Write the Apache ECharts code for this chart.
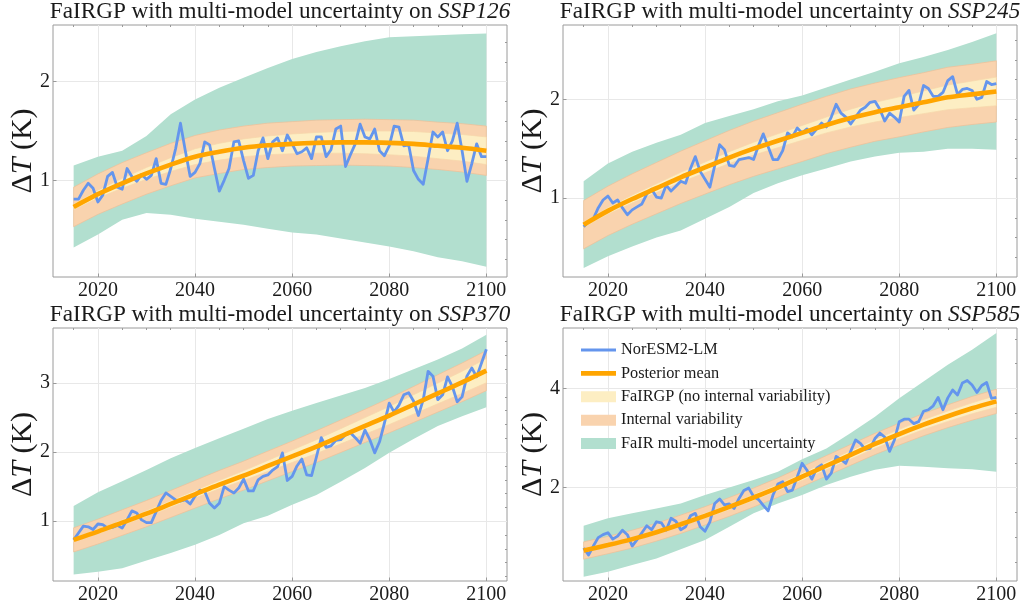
<!DOCTYPE html>
<html>
<head>
<meta charset="utf-8">
<script src="https://cdn.jsdelivr.net/npm/echarts@6/dist/echarts.min.js"></script>
<style>
  html, body { margin: 0; padding: 0; background: #ffffff; }
  #chart { width: 1021px; height: 608px; }
</style>
</head>
<body>
<div id="chart"></div>
<script>
// ---------- data ----------
// annual years of the NorESM2-LM run
const years = [];
for (let y = 2015; y <= 2100; y++) years.push(y);
// five-yearly years at which the FaIRGP / FaIR envelopes are given
const bandYears = [2015,2020,2025,2030,2035,2040,2045,2050,2055,2060,2065,2070,2075,2080,2085,2090,2095,2100];

const scenarios = ['SSP126', 'SSP245', 'SSP370', 'SSP585'];

// NorESM2-LM global mean temperature anomaly (K)
const blue126 = [0.81,0.81,0.90,0.97,0.92,0.78,0.85,1.04,1.08,0.93,0.91,1.12,1.04,0.99,1.06,1.01,1.05,1.22,0.97,0.96,1.12,1.32,1.58,1.30,1.04,1.08,1.17,1.39,1.36,1.12,0.89,1.00,1.12,1.39,1.40,1.20,1.02,1.05,1.30,1.43,1.22,1.39,1.43,1.30,1.46,1.37,1.27,1.29,1.33,1.22,1.44,1.44,1.24,1.31,1.52,1.55,1.14,1.26,1.37,1.57,1.44,1.42,1.52,1.30,1.25,1.35,1.55,1.54,1.35,1.36,1.10,1.01,0.96,1.22,1.49,1.44,1.49,1.30,1.40,1.58,1.30,0.99,1.17,1.37,1.24,1.24];
const blue245 = [0.71,0.76,0.79,0.90,0.98,1.02,0.95,0.98,0.90,0.83,0.88,0.91,0.94,1.04,1.09,1.01,1.00,1.13,1.07,1.12,1.17,1.15,1.30,1.42,1.27,1.19,1.11,1.33,1.54,1.49,1.33,1.32,1.39,1.40,1.41,1.39,1.53,1.65,1.52,1.39,1.39,1.48,1.66,1.62,1.71,1.66,1.70,1.64,1.70,1.76,1.72,1.82,1.95,1.86,1.82,1.75,1.82,1.89,1.92,1.97,1.98,1.90,1.78,1.86,1.82,1.77,2.03,2.09,1.89,1.95,2.14,2.11,2.03,2.03,2.07,2.19,2.23,2.05,2.10,2.11,2.09,2.00,2.02,2.18,2.15,2.16];
const blue370 = [0.73,0.83,0.93,0.92,0.88,0.96,0.95,0.90,0.91,0.94,0.90,1.02,1.15,1.12,1.02,0.98,0.98,1.14,1.30,1.41,1.36,1.31,1.29,1.31,1.25,1.36,1.45,1.43,1.26,1.19,1.26,1.50,1.45,1.41,1.48,1.61,1.44,1.44,1.60,1.65,1.67,1.74,1.79,1.99,1.59,1.65,1.80,1.90,1.67,1.66,1.93,2.21,2.07,2.09,2.17,2.18,2.25,2.28,2.21,2.13,2.32,2.18,1.99,2.15,2.42,2.71,2.58,2.68,2.83,2.86,2.74,2.53,2.76,3.17,3.10,2.76,2.83,3.09,2.95,2.73,2.80,3.10,3.22,3.09,3.29,3.49];
const blue585 = [0.78,0.64,0.82,0.99,1.05,1.09,0.96,1.02,1.14,1.05,0.82,0.95,1.09,1.23,1.15,1.31,1.29,1.14,1.38,1.32,1.15,1.21,1.43,1.48,1.21,1.12,1.31,1.68,1.77,1.65,1.67,1.58,1.78,1.94,1.99,1.82,1.76,1.64,1.53,1.85,2.07,2.12,1.92,1.95,2.22,2.49,2.35,2.17,2.39,2.46,2.17,2.29,2.63,2.57,2.49,2.73,2.96,2.89,2.77,2.79,2.99,3.10,3.02,2.73,2.96,3.33,3.38,3.38,3.29,3.33,3.54,3.57,3.65,3.82,3.57,3.81,3.97,3.87,4.11,4.16,4.07,3.92,4.06,4.12,3.80,3.82];

// FaIRGP posterior mean (K), five-yearly
const mean126 = [0.73,0.86,0.97,1.07,1.16,1.24,1.29,1.33,1.355,1.37,1.38,1.385,1.385,1.38,1.37,1.35,1.33,1.30];
const mean245 = [0.73,0.87,0.99,1.10,1.21,1.31,1.41,1.50,1.58,1.66,1.74,1.81,1.87,1.92,1.97,2.02,2.05,2.08];
const mean370 = [0.73,0.85,0.98,1.11,1.25,1.39,1.53,1.66,1.80,1.94,2.08,2.23,2.38,2.53,2.69,2.85,3.01,3.18];
const mean585 = [0.73,0.84,0.96,1.10,1.26,1.43,1.61,1.80,2.00,2.22,2.44,2.66,2.88,3.08,3.27,3.44,3.60,3.74];

// FaIRGP half-width without internal variability (K)
const yellowHalf126 = [0.03,0.04,0.05,0.06,0.07,0.08,0.085,0.09,0.095,0.10,0.105,0.11,0.115,0.12,0.125,0.13,0.135,0.14];
const yellowHalf245 = [0.03,0.035,0.04,0.045,0.05,0.055,0.06,0.065,0.07,0.075,0.08,0.09,0.10,0.105,0.115,0.125,0.135,0.145];
const yellowHalf370 = [0.03,0.035,0.04,0.045,0.05,0.055,0.06,0.07,0.08,0.09,0.10,0.11,0.12,0.13,0.14,0.15,0.16,0.175];
const yellowHalf585 = [0.03,0.035,0.04,0.045,0.05,0.055,0.06,0.065,0.07,0.075,0.08,0.085,0.09,0.095,0.10,0.105,0.11,0.12];

// half-width including internal variability (K)
const orangeHalf126 = [0.20,0.205,0.21,0.21,0.215,0.215,0.22,0.22,0.225,0.225,0.23,0.23,0.235,0.235,0.24,0.24,0.245,0.25];
const orangeHalf245 = [0.245,0.25,0.255,0.26,0.265,0.27,0.275,0.28,0.285,0.29,0.29,0.295,0.295,0.30,0.30,0.305,0.305,0.31];
const orangeHalf370 = [0.175,0.18,0.185,0.19,0.195,0.20,0.205,0.21,0.215,0.22,0.23,0.235,0.24,0.25,0.26,0.27,0.28,0.29];
const orangeHalf585 = [0.175,0.175,0.18,0.18,0.185,0.185,0.19,0.19,0.195,0.20,0.205,0.21,0.215,0.22,0.225,0.23,0.24,0.245];

// FaIR multi-model envelope bounds (K)
const greenLo126 = [0.32,0.45,0.60,0.67,0.65,0.61,0.58,0.55,0.51,0.47,0.45,0.41,0.37,0.33,0.28,0.22,0.18,0.125];
const greenHi126 = [1.15,1.24,1.30,1.45,1.67,1.82,1.94,2.04,2.14,2.23,2.30,2.36,2.41,2.45,2.46,2.47,2.48,2.49];
const greenLo245 = [0.29,0.41,0.51,0.60,0.67,0.79,0.91,1.05,1.15,1.23,1.30,1.37,1.42,1.46,1.47,1.50,1.50,1.49];
const greenHi245 = [1.17,1.35,1.47,1.56,1.64,1.76,1.83,1.90,1.98,2.04,2.12,2.20,2.28,2.365,2.43,2.50,2.58,2.67];
const greenLo370 = [0.23,0.27,0.32,0.43,0.54,0.66,0.80,0.97,1.08,1.24,1.38,1.57,1.77,1.99,2.19,2.38,2.52,2.65];
const greenHi370 = [1.22,1.42,1.58,1.74,1.91,2.06,2.20,2.34,2.48,2.60,2.71,2.82,2.93,3.06,3.20,3.34,3.50,3.70];
const greenLo585 = [0.20,0.30,0.44,0.57,0.755,0.94,1.21,1.48,1.68,1.85,2.05,2.22,2.36,2.44,2.42,2.39,2.37,2.32];
const greenHi585 = [1.23,1.38,1.48,1.58,1.68,1.85,2.00,2.155,2.32,2.57,2.79,3.10,3.43,3.80,4.14,4.48,4.78,5.12];

// axis ticks
const xTicks = [2020, 2040, 2060, 2080, 2100];
const xMinor = [2015, 2025, 2030, 2035, 2045, 2050, 2055, 2065, 2070, 2075, 2085, 2090, 2095];
const yTicks = [[1, 2], [1, 2], [1, 2, 3], [2, 4]];
const yMinor = [
  [0.2,0.4,0.6,0.8,1.2,1.4,1.6,1.8,2.2,2.4],
  [0.4,0.6,0.8,1.2,1.4,1.6,1.8,2.2,2.4,2.6],
  [0.2,0.4,0.6,0.8,1.2,1.4,1.6,1.8,2.2,2.4,2.6,2.8,3.2,3.4,3.6],
  [0.5,1,1.5,2.5,3,3.5,4.5,5]
];
const yRange = [[0.02, 2.575], [0.2, 2.753], [0.135, 3.797], [0.115, 5.22]];
const xRange = [2010.75, 2104.25];

const blues = [blue126, blue245, blue370, blue585];
const means = [mean126, mean245, mean370, mean585];
const yellowHalves = [yellowHalf126, yellowHalf245, yellowHalf370, yellowHalf585];
const orangeHalves = [orangeHalf126, orangeHalf245, orangeHalf370, orangeHalf585];
const greenLos = [greenLo126, greenLo245, greenLo370, greenLo585];
const greenHis = [greenHi126, greenHi245, greenHi370, greenHi585];

// ---------- styling ----------
const FONT = 'Liberation Serif';
const C_GREEN = '#b2dfcf';
const C_ORANGE_BAND = '#f9d3ae';
const C_YELLOW = '#fdeec3';
const C_BLUE = '#6495ed';
const C_MEAN = '#ffa500';
const C_SPINE = '#9a9a9a';
const C_GRID = '#e8e8e8';
const C_TEXT = '#1a1a1a';

const grids = [
  { left: 53, top: 25, width: 454, height: 252 },
  { left: 563, top: 25, width: 454, height: 252 },
  { left: 53, top: 328, width: 454, height: 253 },
  { left: 563, top: 328, width: 454, height: 253 }
];

const pair = (xs, ys) => xs.map((x, i) => [x, ys[i]]);

const xAxes = [];
const yAxes = [];
const series = [];
const titles = [];

grids.forEach((g, p) => {
  // main axes: labels, major ticks, grid lines
  xAxes.push({
    type: 'value', gridIndex: p, min: xRange[0], max: xRange[1],
    axisLine: { show: false },
    axisTick: { show: true, inside: true, length: 3.5, customValues: xTicks, lineStyle: { color: C_SPINE } },
    axisLabel: { customValues: xTicks, formatter: v => String(v), fontFamily: FONT, fontSize: 20, color: C_TEXT, margin: 4 },
    splitLine: { show: true, lineStyle: { color: C_GRID, width: 1 } }
  });
  yAxes.push({
    type: 'value', gridIndex: p, min: yRange[p][0], max: yRange[p][1],
    axisLine: { show: false },
    axisTick: { show: true, inside: true, length: 3.5, customValues: yTicks[p], lineStyle: { color: C_SPINE } },
    axisLabel: { customValues: yTicks[p], formatter: v => String(v), fontFamily: FONT, fontSize: 20, color: C_TEXT, margin: 3 },
    splitLine: { show: true, lineStyle: { color: C_GRID, width: 1 } },
    name: '{d|Δ}{t|T}{d| (K)}',
    nameLocation: 'middle', nameGap: 15, nameRotate: 90, nameMoveOverlap: false,
    nameTextStyle: {
      rich: {
        d: { fontFamily: FONT, fontSize: 30, color: C_TEXT },
        t: { fontFamily: FONT, fontSize: 30, fontStyle: 'italic', color: C_TEXT }
      }
    }
  });

  titles.push({
    text: '{n|FaIRGP with multi-model uncertainty on }{i|' + scenarios[p] + '}',
    left: g.left + g.width / 2, top: g.top - 25, textAlign: 'center', padding: 0,
    textStyle: {
      rich: {
        n: { fontFamily: FONT, fontSize: 23.2, fontWeight: 'normal', color: C_TEXT },
        i: { fontFamily: FONT, fontSize: 23.2, fontWeight: 'normal', fontStyle: 'italic', color: C_TEXT }
      }
    }
  });
});

// minor tick axes (ticks only)
grids.forEach((g, p) => {
  xAxes.push({
    type: 'value', gridIndex: p, min: xRange[0], max: xRange[1],
    axisLine: { show: false }, axisLabel: { show: false }, splitLine: { show: false },
    axisTick: { show: true, inside: true, length: 2, customValues: xMinor, lineStyle: { color: C_SPINE } }
  });
  yAxes.push({
    type: 'value', gridIndex: p, min: yRange[p][0], max: yRange[p][1],
    axisLine: { show: false }, axisLabel: { show: false }, splitLine: { show: false },
    axisTick: { show: true, inside: true, length: 2, customValues: yMinor[p], lineStyle: { color: C_SPINE } }
  });
});

// filled envelope between lo and hi, drawn as one polygon through the grid's scales
function band(p, name, lo, hi, color, edge, z) {
  series.push({
    type: 'custom', name: name, xAxisIndex: p, yAxisIndex: p, z: z, silent: true,
    itemStyle: { color: color },
    data: [[bandYears[0], lo[0]]],
    renderItem: function (params, api) {
      const upper = bandYears.map((x, i) => api.coord([x, hi[i]]));
      const lower = bandYears.map((x, i) => api.coord([x, lo[i]])).reverse();
      return {
        type: 'polygon',
        shape: { points: upper.concat(lower) },
        style: { fill: color, stroke: edge || color, lineWidth: edge ? 0.7 : 0 }
      };
    }
  });
}

grids.forEach((g, p) => {
  const m = means[p];
  const yh = yellowHalves[p];
  const oh = orangeHalves[p];
  band(p, 'FaIR multi-model uncertainty', greenLos[p], greenHis[p], C_GREEN, null, 1);
  band(p, 'Internal variability', m.map((v, i) => v - oh[i]), m.map((v, i) => v + oh[i]), C_ORANGE_BAND, '#efbe96', 2);
  band(p, 'FaIRGP (no internal variability)', m.map((v, i) => v - yh[i]), m.map((v, i) => v + yh[i]), C_YELLOW, '#f7d7aa', 3);

  series.push({
    name: 'NorESM2-LM', type: 'line', xAxisIndex: p, yAxisIndex: p,
    data: pair(years, blues[p]), symbol: 'none', z: 5,
    lineStyle: { color: C_BLUE, width: 2.8, join: 'round' },
    itemStyle: { color: C_BLUE }
  });
  series.push({
    name: 'Posterior mean', type: 'line', xAxisIndex: p, yAxisIndex: p,
    data: pair(bandYears, m), symbol: 'none', smooth: 0.3, z: 6,
    lineStyle: { color: C_MEAN, width: 4.6 },
    itemStyle: { color: C_MEAN }
  });
});

const chart = echarts.init(document.getElementById('chart'), null, { renderer: 'canvas' });
chart.setOption({
  backgroundColor: '#ffffff',
  animation: false,
  title: titles,
  grid: grids.map(g => Object.assign({ show: true, borderColor: C_SPINE, borderWidth: 1, backgroundColor: 'transparent' }, g)),
  xAxis: xAxes,
  yAxis: yAxes,
  legend: {
    orient: 'vertical', left: 576, top: 337,
    itemWidth: 35, itemHeight: 11, itemGap: 7.4, symbolKeepAspect: true,
    textStyle: { fontFamily: FONT, fontSize: 16.3, color: C_TEXT, lineHeight: 16 },
    selectedMode: false,
    data: [
      { name: 'NorESM2-LM', icon: 'path://M0,0H35V2.8H0Z' },
      { name: 'Posterior mean', icon: 'path://M0,0H35V4.6H0Z' },
      { name: 'FaIRGP (no internal variability)', icon: 'rect' },
      { name: 'Internal variability', icon: 'rect' },
      { name: 'FaIR multi-model uncertainty', icon: 'rect' }
    ]
  },
  series: series
});
</script>
</body>
</html>
